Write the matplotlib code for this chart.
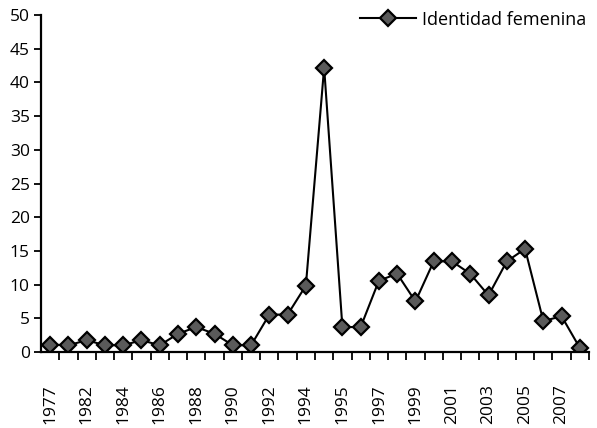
import matplotlib
matplotlib.use("Agg")
import matplotlib.pyplot as plt
import numpy as np

plt.rcParams['font.family'] = ['Open Sans', 'DejaVu Sans']

# Data: 30 consecutive observations; labels shown every other category
values = [1.1, 1.0, 1.75, 1.0, 1.0, 1.75, 1.0, 2.7, 3.7, 2.7,
          1.0, 1.0, 5.55, 5.55, 9.85, 42.2, 3.7, 3.7, 10.6, 11.6,
          7.5, 13.45, 13.45, 11.6, 8.4, 13.45, 15.3, 4.6, 5.3, 0.6]
tick_labels = ["1977", "1982", "1984", "1986", "1988", "1990", "1992", "1994",
               "1995", "1997", "1999", "2001", "2003", "2005", "2007"]
series_name = "Identidad femenina"

fig = plt.figure(figsize=(5.97, 4.28), dpi=100)
ax = fig.add_axes([41/597, 1-352/428, 548/597, 337/428])

x = np.arange(len(values))
ax.plot(x, values, color='black', lw=1.5, marker='D', markersize=8,
        markerfacecolor='#5a5a5a', markeredgecolor='black', markeredgewidth=1.6,
        label=series_name)

ax.set_xlim(-0.5, len(values) - 0.5)
ax.set_ylim(0, 50)
ax.set_yticks(np.arange(0, 51, 5))
ax.set_xticks(x[::2][:len(tick_labels)])
ax.set_xticklabels(tick_labels, rotation=90, fontsize=12.5)
ax.tick_params(axis='x', which='major', length=0, pad=23)
ax.set_xticks(np.arange(0.5, len(values), 1), minor=True)
ax.tick_params(axis='x', which='minor', length=6, width=1.3, direction='out', color='black')
ax.tick_params(axis='y', length=5, width=1.3, labelsize=12.5, pad=3)

for s in ['top', 'right']:
    ax.spines[s].set_visible(False)
for s in ['left', 'bottom']:
    ax.spines[s].set_linewidth(1.6)

leg = ax.legend(loc='upper right', frameon=False, fontsize=13, handlelength=3.1,
                bbox_to_anchor=(1.015, 1.045), handletextpad=0.35, borderaxespad=0.2)

fig.savefig("out.png", dpi=100)
